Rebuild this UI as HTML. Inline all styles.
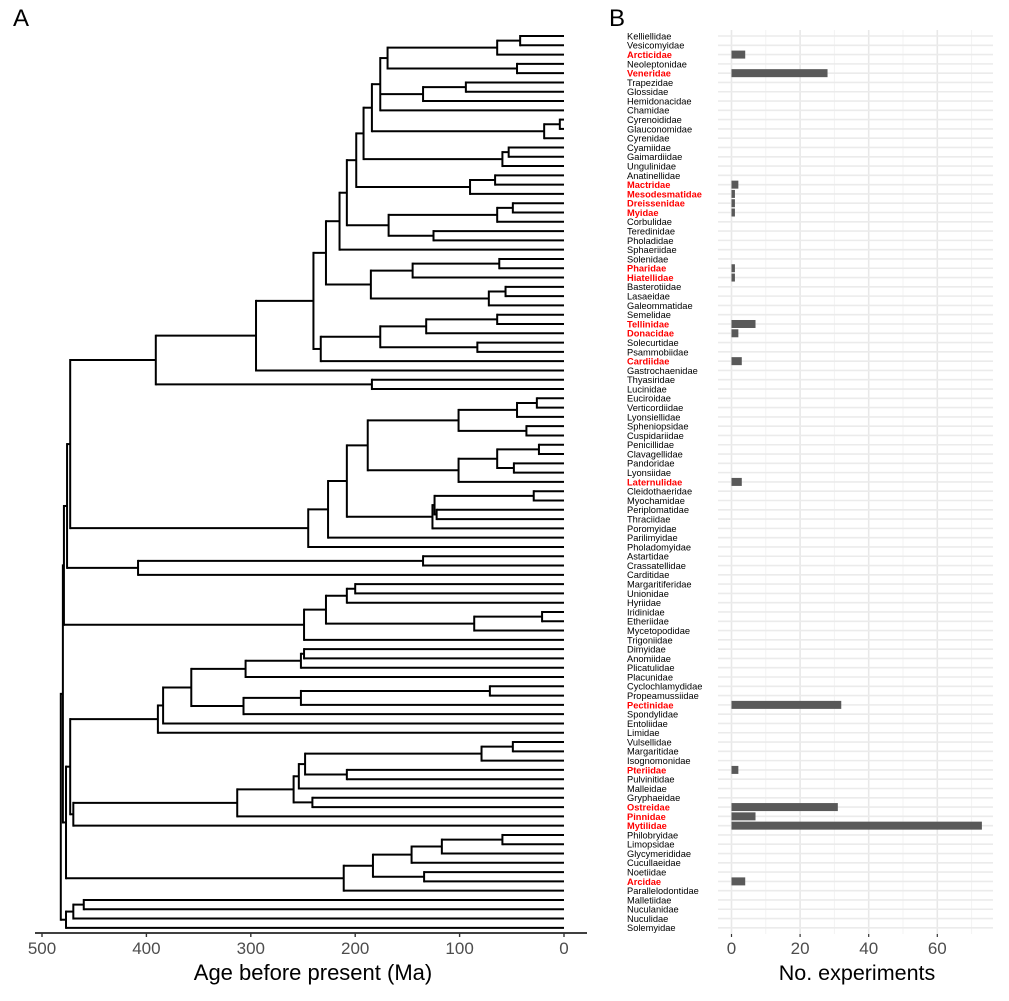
<!DOCTYPE html>
<html><head><meta charset="utf-8"><style>
html,body{margin:0;padding:0;background:#fff}
svg{display:block}
text{font-family:"Liberation Sans",sans-serif}
</style></head><body>
<svg id="fig" width="1009" height="1001" viewBox="0 0 1009 1001" xmlns="http://www.w3.org/2000/svg">
<text x="13" y="26" font-size="24">A</text>
<text x="609" y="26" font-size="24">B</text>
<g id="grid"></g>
<g id="tree"></g>
<g id="labels"></g>
<g id="bars"></g>
<g id="axes"></g>
</svg>
<script>
const taxa = ["Kelliellidae","Vesicomyidae","Arcticidae","Neoleptonidae","Veneridae","Trapezidae","Glossidae","Hemidonacidae","Chamidae","Cyrenoididae","Glauconomidae","Cyrenidae","Cyamiidae","Gaimardiidae","Ungulinidae","Anatinellidae","Mactridae","Mesodesmatidae","Dreissenidae","Myidae","Corbulidae","Teredinidae","Pholadidae","Sphaeriidae","Solenidae","Pharidae","Hiatellidae","Basterotiidae","Lasaeidae","Galeommatidae","Semelidae","Tellinidae","Donacidae","Solecurtidae","Psammobiidae","Cardiidae","Gastrochaenidae","Thyasiridae","Lucinidae","Euciroidae","Verticordiidae","Lyonsiellidae","Spheniopsidae","Cuspidariidae","Penicillidae","Clavagellidae","Pandoridae","Lyonsiidae","Laternulidae","Cleidothaeridae","Myochamidae","Periplomatidae","Thraciidae","Poromyidae","Parilimyidae","Pholadomyidae","Astartidae","Crassatellidae","Carditidae","Margaritiferidae","Unionidae","Hyriidae","Iridinidae","Etheriidae","Mycetopodidae","Trigoniidae","Dimyidae","Anomiidae","Plicatulidae","Placunidae","Cyclochlamydidae","Propeamussiidae","Pectinidae","Spondylidae","Entoliidae","Limidae","Vulsellidae","Margaritidae","Isognomonidae","Pteriidae","Pulvinitidae","Malleidae","Gryphaeidae","Ostreidae","Pinnidae","Mytilidae","Philobryidae","Limopsidae","Glycymerididae","Cucullaeidae","Noetiidae","Arcidae","Parallelodontidae","Malletiidae","Nuculanidae","Nuculidae","Solemyidae"];
const expTaxa = ["Arcticidae","Veneridae","Mactridae","Mesodesmatidae","Dreissenidae","Myidae","Pharidae","Hiatellidae","Tellinidae","Donacidae","Cardiidae","Laternulidae","Pectinidae","Pteriidae","Ostreidae","Pinnidae","Mytilidae","Arcidae"];
const expCounts = [4,28,2,1,1,1,1,1,7,2,3,3,32,2,31,7,73,4];
const ageTicks = [500,400,300,200,100,0];
const countTicks = [0,20,40,60];
const countMinor = [10,30,50,70];
// tree: [age, child, child...], leaves = 1-based taxon index
const T1 = [391,[295,[240,[228,[215,[208,[199,[192,[184,[176,[169,[64,[42,1,2],3],[45,4,5]],[135,[94,6,7],8],9],[19,[4,10,11],12]],[59,[53,13,14],15]],[90,[66,16,17],18]],[168,[64,[49,19,20],21],[125,22,23]]],24],[185,[145,[62,25,26],27],[72,[56,28,29],30]]],[233,[176,[132,[64,31,32],33],[83,34,35]],36]],37],[184,38,39]];
const T2 = [245,[226,[208,[188,[101,[45,[26,40,41],42],[36,43,44]],[101,[64,[24,45,46],[48,47,48]],49]],[126,[124,[29,50,51],[122,52,53]],54]],55],56];
const T3 = [408,[135,57,58],59];
const T4 = [249,[228,[208,[200,60,61],62],[86,[21,63,64],65]],66];
const T5 = [389,[384,[357,[305,[252,[249,67,68],69],70],[307,[252,[71,71,72],73],74]],75],76];
const T6 = [470,[313,[259,[254,[248,[79,[49,77,78],79],[208,80,81]],82],[241,83,84]],85],86];
const T7 = [211,[183,[146,[117,[59,87,88],89],90],[134,91,92]],93];
const T8 = [477,[470,[460,94,95],96],97];
const tree = [482,[480,[479,[476,[473,T1,T2],T3],T4],[477,[473,T5,T6],T7]],T8];

const NS="http://www.w3.org/2000/svg";
function mk(tag,attrs,parent){const e=document.createElementNS(NS,tag);for(const k in attrs)e.setAttribute(k,attrs[k]);parent.appendChild(e);return e;}
const xAge = a => 564 - a*1.044;
const yLeaf = i => 36 + (i-1)*9.29;
const xCount = v => 731.5 + v*3.43;
const gT=document.getElementById('tree'),gL=document.getElementById('labels'),gB=document.getElementById('bars'),gG=document.getElementById('grid'),gA=document.getElementById('axes');

function draw(node){
  if(typeof node==='number') return {x:xAge(0),y:yLeaf(node)};
  const x=xAge(node[0]);
  const ch=node.slice(1).map(draw);
  const ys=ch.map(c=>c.y);
  let v=mk('line',{x1:x,x2:x,y1:Math.min(...ys),y2:Math.max(...ys),stroke:'#000','stroke-width':2,'stroke-linecap':'square'},gT);
  
  
  ch.forEach(c=>{
    let h=mk('line',{x1:x,x2:c.x,y1:c.y,y2:c.y,stroke:'#000','stroke-width':2},gT);
    
    
  });
  return {x:x,y:(Math.min(...ys)+Math.max(...ys))/2};
}
draw(tree);

countMinor.forEach(v=>{let l=mk('line',{x1:xCount(v),x2:xCount(v),y1:30,y2:934,stroke:'#f3f3f3','stroke-width':1},gG);
  
  });
countTicks.forEach(v=>{let l=mk('line',{x1:xCount(v),x2:xCount(v),y1:30,y2:934,stroke:'#e8e8e8','stroke-width':1.6},gG);
  
  });
taxa.forEach((t,i)=>{let l=mk('line',{x1:718,x2:993,y1:yLeaf(i+1),y2:yLeaf(i+1),stroke:'#ebebeb','stroke-width':1.6},gG);
  
  });

taxa.forEach((t,i)=>{
  const k=expTaxa.indexOf(t);
  const red=k>=0;
  const tx=mk('text',{x:627,y:yLeaf(i+1)+3.4,'font-size':9.3,fill:red?'#ff0000':'#000','font-weight':red?'bold':'normal'},gL);
  tx.textContent=t;
  
  
  if(red){
    const r=mk('rect',{x:xCount(0),y:yLeaf(i+1)-4,width:xCount(expCounts[k])-xCount(0),height:8,fill:'#595959'},gB);
    
    
  }
});

let ax=mk('line',{x1:35,x2:587,y1:933,y2:933,stroke:'#000','stroke-width':1.6},gA);


ageTicks.forEach(a=>{
  let t=mk('line',{x1:xAge(a),x2:xAge(a),y1:933,y2:937,stroke:'#333','stroke-width':1.4},gA);
  
  
  let l=mk('text',{x:xAge(a),y:954,'font-size':17,fill:'#4d4d4d','text-anchor':'middle'},gA);
  l.textContent=a;
  
  
});
let t1=mk('text',{x:313,y:980,'font-size':22,fill:'#000','text-anchor':'middle'},gA);
t1.textContent='Age before present (Ma)';


countTicks.forEach(v=>{
  let t=mk('line',{x1:xCount(v),x2:xCount(v),y1:934,y2:937,stroke:'#333','stroke-width':1.2},gA);
  
  
  let l=mk('text',{x:xCount(v),y:954,'font-size':17,fill:'#4d4d4d','text-anchor':'middle'},gA);
  l.textContent=v;
  
  
});
let t2=mk('text',{x:857,y:980,'font-size':21.5,fill:'#000','text-anchor':'middle'},gA);
t2.textContent='No. experiments';


</script>
</body></html>
